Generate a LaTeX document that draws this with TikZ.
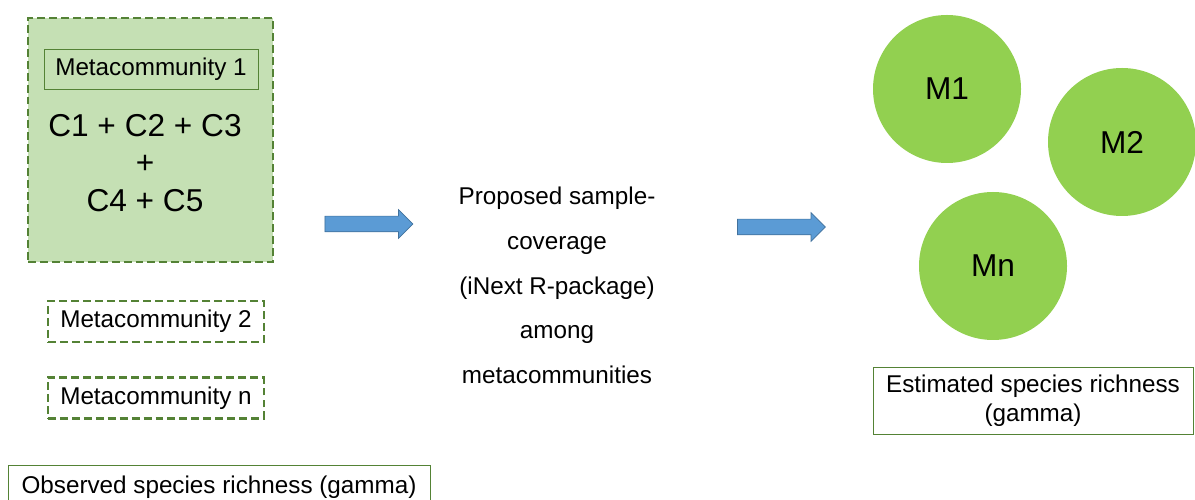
\documentclass[tikz,border=0pt]{standalone}
\usepackage{fontspec}
\setmainfont{Liberation Sans}
\usepackage{tikz}
\usetikzlibrary{calc, positioning, arrows.meta, shapes}

\definecolor{lightgreen}{HTML}{C5E0B4}
\definecolor{darkgreen}{HTML}{548235}
\definecolor{circgreen}{HTML}{92D050}
\definecolor{arrowblue}{HTML}{5B9BD5}
\definecolor{arrowedge}{HTML}{41719C}

\tikzset{
	dashbox/.style={rectangle, draw=darkgreen, line width=1.4pt, dash pattern=on 4.5pt off 2.3pt, text centered},
	plainbox/.style={rectangle, draw=darkgreen, thin, text centered, inner sep=0pt},
	bigarrow/.style={single arrow, fill=arrowblue, draw=arrowedge, thin, minimum height=1.76cm, minimum width=0pt, inner xsep=0pt, inner ysep=0.15cm, single arrow head extend=0.13cm, single arrow head indent=0pt},
	metacirc/.style={circle, fill=circgreen, minimum size=2.96cm, inner sep=0pt, font=\fontsize{18}{21}\selectfont},
}

\begin{document}
\begin{tikzpicture}
		[node distance=0.66cm, font=\fontsize{13.8}{16}\selectfont]
		\useasboundingbox (0,0) rectangle (23.9,-10);
		% nodes %
		\node[dashbox, fill=lightgreen, minimum width=4.9cm, minimum height=4.88cm] (meta) at (3.01,-2.8) {};
		\node[plainbox, fill=lightgreen, minimum width=4.28cm, minimum height=0.8cm] (meta1) at (3.02,-1.38) {Metacommunity 1};
		\node[align=center, font=\fontsize{18}{21.5}\selectfont] (sum) at (2.9,-3.26) {C1 + C2 + C3\\+\\C4 + C5};
		\node[dashbox, minimum width=4.32cm, minimum height=0.82cm, inner sep=0pt] (meta2) at (3.12,-6.43) {Metacommunity 2};
		\node[dashbox, minimum width=4.32cm, minimum height=0.82cm, inner sep=0pt, below=of meta2] (metan) {Metacommunity n};
		\node[plainbox, minimum width=8.44cm, minimum height=0.88cm] (observed) at (4.38,-9.74) {Observed species richness (gamma)};

		\node[bigarrow] (arrow1) at (7.3,-4.48) {};
		\node[align=center, font=\fontsize{13.8}{25.5}\selectfont] (method) at (11.14,-5.71)
			{Proposed sample-\\coverage\\(iNext R-package)\\among\\metacommunities};
		\node[bigarrow] (arrow2) at (15.55,-4.54) {};

		\node[metacirc] (m1) at (18.94,-1.78) {M1};
		\node[metacirc] (m2) at (22.44,-2.84) {M2};
		\node[metacirc] (mn) at (19.86,-5.32) {Mn};
		\node[plainbox, align=center, minimum width=6.4cm, minimum height=1.34cm, font=\fontsize{13.8}{16.5}\selectfont] (estimated) at (20.66,-8.01)
			{Estimated species richness\\(gamma)};
		\end{tikzpicture}
\end{document}
